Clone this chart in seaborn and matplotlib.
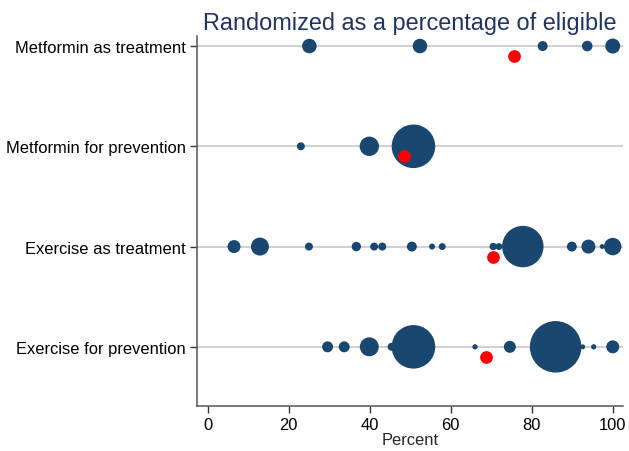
import pandas as pd
import matplotlib.pyplot as plt
import seaborn as sns

# rows, bottom to top
categories = ["Exercise for prevention", "Exercise as treatment",
              "Metformin for prevention", "Metformin as treatment"]

# percent randomized of eligible, per study, and a weight for marker area
ex_prev_pct = [29.6, 33.7, 39.9, 45.4, 50.8, 66.0, 74.6, 85.9, 92.6, 95.3, 100.0]
ex_prev_n = [30, 30, 90, 16, 475, 7, 36, 665, 6, 7, 42]

ex_treat_pct = [6.5, 12.9, 25.0, 36.7, 41.1, 43.1, 50.4, 55.4, 57.9, 70.5, 71.9,
                77.8, 89.9, 94.0, 97.4, 100.0]
ex_treat_n = [42, 81, 16, 22, 16, 16, 25, 9, 12, 14, 12, 430, 25, 49, 6, 76]

met_prev_pct = [23.0, 39.9, 50.8]
met_prev_n = [16, 94, 475]

met_treat_pct = [25.1, 52.4, 82.7, 93.7, 100.0]
met_treat_n = [53, 53, 25, 28, 56]

# pooled estimate per row (red)
pooled_pct = [68.6, 70.5, 48.5, 75.7]

navy = "#1a476f"

rows = []
for cat, pcts, ns in zip(categories,
                         [ex_prev_pct, ex_treat_pct, met_prev_pct, met_treat_pct],
                         [ex_prev_n, ex_treat_n, met_prev_n, met_treat_n]):
    for p, n in zip(pcts, ns):
        rows.append({"group": cat, "pct": p, "n": n})
df = pd.DataFrame(rows)
pos = {c: i + 1 for i, c in enumerate(categories)}
df["pos"] = df["group"].map(pos)

pooled = pd.DataFrame({"group": categories, "pct": pooled_pct})
pooled["pos"] = pooled["group"].map(pos) - 0.1

sns.set_style("white")
plt.rcParams['font.family'] = ['Liberation Sans', 'DejaVu Sans']

fig = plt.figure(figsize=(6.29, 4.52), dpi=100)
ax = fig.add_axes([0.3132, 0.0996, 0.6773, 0.8185])

for p in pos.values():
    ax.axhline(p, color="#c4c4c4", lw=1.1, zorder=0)

sns.scatterplot(data=df, x="pct", y="pos", size="n", sizes=(0, 2.07 * 700),
                size_norm=(0, 700), color=navy, linewidth=0, legend=False,
                ax=ax, zorder=2)
sns.scatterplot(data=pooled, x="pct", y="pos", color="#ff0000", s=84,
                linewidth=0, legend=False, ax=ax, zorder=3)

ax.set_xlim(-2.64, 102.54)
ax.set_ylim(0.41, 4.10)
ax.set_xticks([0, 20, 40, 60, 80, 100])
ax.set_yticks(list(pos.values()))
ax.set_yticklabels(categories)
ax.tick_params(axis="both", labelsize=11.9, labelcolor="black", length=5,
               width=1, direction="out", pad=3, color="#333333",
               bottom=True, left=True)
ax.set_xlabel("Percent", fontsize=11.9, labelpad=0)
ax.set_ylabel("")
ax.set_title("Randomized as a percentage of eligible", fontsize=16.9,
             color="#1f3462", pad=5)

sns.despine(ax=ax)
for s in ["left", "bottom"]:
    ax.spines[s].set_color("#555555")
    ax.spines[s].set_linewidth(1.1)

plt.savefig("out.png", dpi=100)
